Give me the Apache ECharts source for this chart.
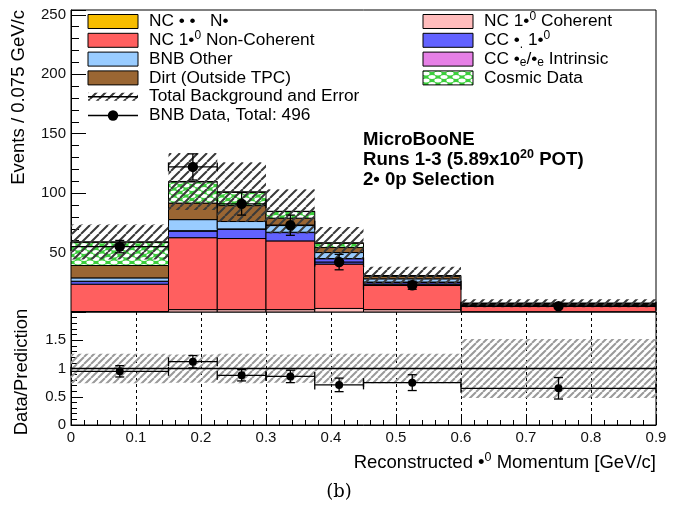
<!DOCTYPE html>
<html>
<head>
<meta charset="utf-8">
<script src="https://cdn.jsdelivr.net/npm/echarts@6/dist/echarts.min.js"></script>
<style>
html,body{margin:0;padding:0;background:#fff;}
#chart{width:689px;height:508px;}
</style>
</head>
<body>
<div id="chart"></div>
<script>
// ---------------- data ----------------
const binEdges      = [0, 0.15, 0.225, 0.3, 0.375, 0.45, 0.6, 0.9];
const nc1pi0Coh     = [0.4, 2.0, 2.0, 2.0, 3.0, 2.0, 0.3];
const nc1pi0NonCoh  = [23.0, 60.5, 59.8, 57.8, 37.3, 21.5, 5.4];
const ccNumu1pi0    = [2.2, 5.6, 7.8, 7.0, 4.5, 1.5, 0.3];
const ccNueIntr     = [0.3, 0.3, 0.3, 0.3, 0.2, 0.2, 0.1];
const bnbOther      = [2.8, 9.3, 6.2, 5.6, 5.0, 2.7, 0.5];
const dirt          = [10.4, 13.9, 13.4, 6.2, 4.2, 2.2, 0.5];
const cosmic        = [19.6, 17.9, 11.2, 5.6, 3.7, 0.5, 0.2];
const ncDelta       = [0.2, 0.3, 0.3, 0.2, 0.2, 0.1, 0.05];
const bkgErr        = [14.7, 24.0, 25.0, 18.6, 13.3, 7.3, 3.4];
const dataX         = [0.075, 0.1875, 0.2625, 0.3375, 0.4125, 0.525, 0.75];
const dataVals      = [55, 122, 91, 73, 42, 22.5, 4.8];
const dataErr       = [5.2, 11.0, 9.5, 8.5, 6.5, 3.4, 1.1];
const ratioVals     = [0.95, 1.12, 0.88, 0.86, 0.71, 0.75, 0.65];
const ratioErr      = [0.10, 0.11, 0.10, 0.11, 0.12, 0.14, 0.19];
const ratioBand     = [0.26, 0.25, 0.26, 0.25, 0.26, 0.26, 0.52];
const yTicksTop     = [50, 100, 150, 200, 250];
const yTicksRatio   = [0, 0.5, 1, 1.5];

// ---------------- patterns ----------------
function hatchPattern(size, color, lw) {
  const c = document.createElement('canvas');
  c.width = size; c.height = size;
  const g = c.getContext('2d');
  g.strokeStyle = color; g.lineWidth = lw;
  g.beginPath();
  for (let k = -1; k <= 1; k++) {
    g.moveTo(k * size, size);
    g.lineTo(k * size + size, 0);
  }
  g.stroke();
  return { image: c, repeat: 'repeat' };
}
function cosmicPattern() {
  const c = document.createElement('canvas');
  c.width = 12; c.height = 7;
  const g = c.getContext('2d');
  g.fillStyle = '#3ccf3c';
  g.fillRect(0, 0, 12, 7);
  g.fillStyle = '#ffffff';
  const pts = [[6, 3.5], [0, 0], [12, 0], [0, 7], [12, 7]];
  pts.forEach(p => {
    g.beginPath();
    g.ellipse(p[0], p[1], 3.6, 1.9, 0, 0, Math.PI * 2);
    g.fill();
  });
  return { image: c, repeat: 'repeat' };
}
const hatchTop = hatchPattern(9, '#3a3a3a', 2.0);
const hatchRatio = hatchPattern(7, '#9a9a9a', 2.0);
const cosmicFill = cosmicPattern();

const colors = {
  ncDelta: '#f7bd00', nonCoh: '#ff5f5f', bnbOther: '#99ccff', dirt: '#9a6633',
  coh: '#ffbcbc', numu: '#6262ff', nue: '#e680e6'
};

// ---------------- stack series ----------------
const layers = [
  { arr: nc1pi0Coh, fill: colors.coh },
  { arr: nc1pi0NonCoh, fill: colors.nonCoh },
  { arr: ccNumu1pi0, fill: colors.numu },
  { arr: ccNueIntr, fill: colors.nue },
  { arr: bnbOther, fill: colors.bnbOther },
  { arr: dirt, fill: colors.dirt },
  { arr: cosmic, fill: cosmicFill },
  { arr: ncDelta, fill: colors.ncDelta }
];
const cum = binEdges.slice(1).map(() => 0);
const series = [];
function rectItem(params, api, fill, stroke, lw) {
  const p0 = api.coord([api.value(0), api.value(3)]);
  const p1 = api.coord([api.value(1), api.value(2)]);
  return {
    type: 'rect',
    shape: { x: p0[0], y: p0[1], width: p1[0] - p0[0], height: p1[1] - p0[1] },
    style: { fill: fill, stroke: stroke, lineWidth: lw }
  };
}
layers.forEach(L => {
  const d = L.arr.map((v, i) => {
    const y0 = cum[i]; cum[i] += v;
    return [binEdges[i], binEdges[i + 1], y0, cum[i]];
  });
  series.push({
    type: 'custom', xAxisIndex: 0, yAxisIndex: 0, clip: true,
    encode: { x: [0, 1], y: [2, 3] },
    data: d,
    renderItem: (p, api) => rectItem(p, api, L.fill, '#000', 1)
  });
});
// total background error (hatched)
series.push({
  type: 'custom', xAxisIndex: 0, yAxisIndex: 0, clip: true,
  encode: { x: [0, 1], y: [2, 3] },
  data: cum.map((t, i) => [binEdges[i], binEdges[i + 1], t - bkgErr[i], t + bkgErr[i]]),
  renderItem: (p, api) => rectItem(p, api, hatchTop, null, 0)
});

function errPoint(api, x0, x1, xc, y, e, r) {
  const c = api.coord([xc, y]);
  const l = api.coord([x0, y]);
  const rr = api.coord([x1, y]);
  const top = api.coord([xc, y + e]);
  const bot = api.coord([xc, y - e]);
  const st = { stroke: '#000', lineWidth: 1.3 };
  const cap = 4.5;
  return {
    type: 'group',
    children: [
      { type: 'line', shape: { x1: l[0], y1: c[1], x2: rr[0], y2: c[1] }, style: st },
      { type: 'line', shape: { x1: l[0], y1: c[1] - cap, x2: l[0], y2: c[1] + cap }, style: st },
      { type: 'line', shape: { x1: rr[0], y1: c[1] - cap, x2: rr[0], y2: c[1] + cap }, style: st },
      { type: 'line', shape: { x1: c[0], y1: top[1], x2: c[0], y2: bot[1] }, style: st },
      { type: 'line', shape: { x1: c[0] - cap, y1: top[1], x2: c[0] + cap, y2: top[1] }, style: st },
      { type: 'line', shape: { x1: c[0] - cap, y1: bot[1], x2: c[0] + cap, y2: bot[1] }, style: st },
      { type: 'circle', shape: { cx: c[0], cy: c[1], r: r }, style: { fill: '#000' } }
    ]
  };
}
// data points upper
series.push({
  type: 'custom', xAxisIndex: 0, yAxisIndex: 0, clip: false,
  encode: { x: 2, y: 3 },
  data: dataVals.map((v, i) => [binEdges[i], binEdges[i + 1], dataX[i], v, dataErr[i]]),
  renderItem: (p, api) => errPoint(api, api.value(0), api.value(1), api.value(2), api.value(3), api.value(4), 5.2),
  z: 10
});
// ratio band
series.push({
  type: 'custom', xAxisIndex: 1, yAxisIndex: 1, clip: true,
  encode: { x: [0, 1], y: [2, 3] },
  data: ratioBand.map((b, i) => [binEdges[i], binEdges[i + 1], 1 - b, 1 + b]),
  renderItem: (p, api) => rectItem(p, api, hatchRatio, null, 0)
});
// line at 1
series.push({
  type: 'line', xAxisIndex: 1, yAxisIndex: 1, symbol: 'none',
  data: [[0, 1], [0.9, 1]], lineStyle: { color: '#000', width: 1.3 }, silent: true
});
// ratio points
series.push({
  type: 'custom', xAxisIndex: 1, yAxisIndex: 1, clip: false,
  encode: { x: 2, y: 3 },
  data: ratioVals.map((v, i) => [binEdges[i], binEdges[i + 1], dataX[i], v, ratioErr[i]]),
  renderItem: (p, api) => errPoint(api, api.value(0), api.value(1), api.value(2), api.value(3), api.value(4), 4),
  z: 10
});

// ---------------- legend (graphic) ----------------
const FONT = '"Liberation Sans", Arial, Helvetica, sans-serif';
const LF = 17.3;
const rich = {
  a: { fontSize: LF, fontFamily: FONT, color: '#000' },
  sup: { fontSize: 12, fontFamily: FONT, color: '#000', padding: [0, 0, 9, 0] },
  sub: { fontSize: 12, fontFamily: FONT, color: '#000', padding: [8, 0, 0, 0] }
};
const TF = 18.5;
const richT = {
  a: { fontSize: TF, fontFamily: FONT, color: '#000' },
  sup: { fontSize: 12.5, fontFamily: FONT, color: '#000', padding: [0, 0, 10, 0] }
};
const leftRows = [21.5, 40.3, 59.1, 77.9, 96.7, 115.5];
const legEls = [];
function legText(x, y, text) {
  legEls.push({ type: 'text', x: x, y: y, style: { text: text, rich: rich, verticalAlign: 'middle', align: 'left', fontFamily: FONT, fontSize: LF } });
}
function legBox(x, y, fill) {
  legEls.push({ type: 'rect', shape: { x: x, y: y - 7, width: 50, height: 14 }, style: { fill: fill, stroke: '#000', lineWidth: 1 } });
}
const legL = [
  { fill: colors.ncDelta, text: '{a|NC • •   N•}' },
  { fill: colors.nonCoh, text: '{a|NC 1•}{sup|0}{a| Non-Coherent}' },
  { fill: colors.bnbOther, text: '{a|BNB Other}' },
  { fill: colors.dirt, text: '{a|Dirt (Outside TPC)}' }
];
legL.forEach((e, i) => { legBox(88, leftRows[i], e.fill); legText(149, leftRows[i], e.text); });
// hatch entry
legEls.push({ type: 'rect', shape: { x: 88, y: leftRows[4] - 4, width: 50, height: 8 }, style: { fill: hatchTop } });
legEls.push({ type: 'line', shape: { x1: 88, y1: leftRows[4], x2: 138, y2: leftRows[4] }, style: { stroke: '#000', lineWidth: 1.5 } });
legText(149, leftRows[4], '{a|Total Background and Error}');
// data entry
legEls.push({ type: 'line', shape: { x1: 88, y1: leftRows[5], x2: 138, y2: leftRows[5] }, style: { stroke: '#000', lineWidth: 1.3 } });
legEls.push({ type: 'circle', shape: { cx: 113, cy: leftRows[5], r: 5.2 }, style: { fill: '#000' } });
legText(149, leftRows[5], '{a|BNB Data, Total: 496}');
const legR = [
  { fill: colors.coh, text: '{a|NC 1•}{sup|0}{a| Coherent}' },
  { fill: colors.numu, text: '{a|CC •}{sub|.}{a| 1•}{sup|0}' },
  { fill: colors.nue, text: '{a|CC •}{sub|e}{a|/•}{sub|e}{a| Intrinsic}' },
  { fill: cosmicFill, text: '{a|Cosmic Data}' }
];
legR.forEach((e, i) => { legBox(423, leftRows[i], e.fill); legText(484, leftRows[i], e.text); });

// annotations
const bold = { fontSize: 18.6, fontWeight: 'bold', fontFamily: FONT, fill: '#000' };
legEls.push({ type: 'text', x: 363, y: 140, style: Object.assign({ text: 'MicroBooNE', verticalAlign: 'middle' }, bold) });
legEls.push({ type: 'text', x: 363, y: 160, style: {
  text: '{b|Runs 1-3 (5.89x10}{s|20}{b| POT)}', verticalAlign: 'middle',
  rich: { b: { fontSize: 18.6, fontWeight: 'bold', fontFamily: FONT, color: '#000' },
          s: { fontSize: 12.5, fontWeight: 'bold', fontFamily: FONT, color: '#000', padding: [0, 0, 10, 0] } } } });
legEls.push({ type: 'text', x: 363, y: 180, style: Object.assign({ text: '2• 0p Selection', verticalAlign: 'middle' }, bold) });

// axis titles
legEls.push({ type: 'text', x: 19, y: 10, rotation: Math.PI / 2, style: { text: 'Events / 0.075 GeV/c', align: 'right', verticalAlign: 'middle', fontSize: TF, fontFamily: FONT, fill: '#000' } });
legEls.push({ type: 'text', x: 22, y: 372, rotation: Math.PI / 2, style: { text: 'Data/Prediction', align: 'center', verticalAlign: 'middle', fontSize: TF, fontFamily: FONT, fill: '#000' } });
legEls.push({ type: 'text', x: 656, y: 463, style: { text: '{a|Reconstructed •}{sup|0}{a| Momentum [GeV/c]}', rich: richT, align: 'right', verticalAlign: 'middle' } });
legEls.push({ type: 'text', x: 339, y: 492, style: { text: '(b)', align: 'center', verticalAlign: 'middle', fontSize: 18, fontFamily: '"DejaVu Serif", "Liberation Serif", serif', fill: '#000' } });

const chart = echarts.init(document.getElementById('chart'), null, { renderer: 'canvas' });
const axisLineStyle = { color: '#000', width: 1 };
const tickFont = { fontSize: 15, color: '#111', fontFamily: FONT, margin: 5 };
chart.setOption({
  animation: false,
  backgroundColor: '#fff',
  grid: [
    { left: 71, top: 10, width: 585, height: 302, show: true, borderColor: '#000', borderWidth: 1, backgroundColor: 'transparent' },
    { left: 71, top: 312, width: 585, height: 113, show: true, borderColor: '#000', borderWidth: 1, backgroundColor: 'transparent' }
  ],
  xAxis: [
    { gridIndex: 0, type: 'value', min: 0, max: 0.9, interval: 0.1,
      axisLine: { show: false }, axisTick: { show: false }, axisLabel: { show: false }, splitLine: { show: false } },
    { gridIndex: 1, type: 'value', min: 0, max: 0.9, interval: 0.1,
      axisLine: { show: true, lineStyle: axisLineStyle },
      axisTick: { show: true, inside: true, length: 9, lineStyle: axisLineStyle },
      minorTick: { show: true, splitNumber: 5, length: 5, lineStyle: axisLineStyle },
      axisLabel: Object.assign({ formatter: v => String(+v.toFixed(2)) }, tickFont),
      splitLine: { show: true, lineStyle: { color: '#000', type: [3, 3], width: 1 } } }
  ],
  yAxis: [
    { gridIndex: 0, type: 'value', min: 0, max: 254, interval: 50,
      axisLine: { show: true, lineStyle: axisLineStyle },
      axisTick: { show: true, inside: true, length: 15, lineStyle: axisLineStyle },
      minorTick: { show: true, splitNumber: 5, length: 8, lineStyle: axisLineStyle },
      axisLabel: Object.assign({ formatter: v => yTicksTop.indexOf(v) >= 0 ? String(v) : '' }, tickFont),
      splitLine: { show: false } },
    { gridIndex: 1, type: 'value', min: 0, max: 2, interval: 0.5,
      axisLine: { show: true, lineStyle: axisLineStyle },
      axisTick: { show: true, inside: true, length: 12, lineStyle: axisLineStyle },
      minorTick: { show: true, splitNumber: 5, length: 6, lineStyle: axisLineStyle },
      axisLabel: Object.assign({ formatter: v => yTicksRatio.indexOf(v) >= 0 ? String(v) : '' }, tickFont),
      splitLine: { show: false } }
  ],
  series: series,
  graphic: { elements: legEls }
});
</script>
</body>
</html>
